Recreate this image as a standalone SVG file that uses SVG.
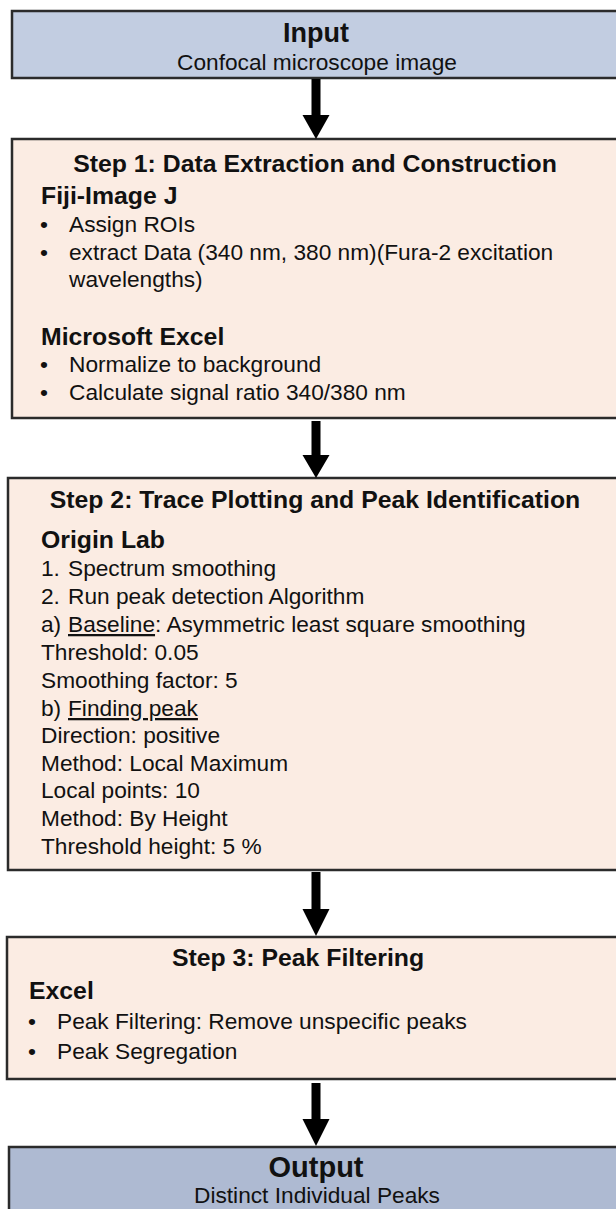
<svg xmlns="http://www.w3.org/2000/svg" width="616" height="1209" viewBox="0 0 616 1209">
<style>
.io{fill:#c2cde1;stroke:#2b2b2b;stroke-width:2.5}
.out{fill:#aebad2;stroke:#2b2b2b;stroke-width:2.5}
.step{fill:#fbece3;stroke:#2b2b2b;stroke-width:2.5}
text{font-family:"Liberation Sans",Arial,sans-serif;fill:#111}
.t{font-size:22.7px}
.b{font-size:24.8px;font-weight:bold}
.big{font-size:27px;font-weight:bold}
.big2{font-size:29px;font-weight:bold}
.c{text-anchor:middle}
.arrow{fill:#000}
</style>
<g id="input">
<rect class="io" x="12" y="11" width="620" height="67"/>
<text class="big c" x="316" y="42">Input</text>
<text class="t c" x="317" y="70">Confocal microscope image</text>
</g>
<g id="step1">
<rect class="step" x="12" y="139" width="620" height="279"/>
<text class="b c" x="315" y="172">Step 1: Data Extraction and Construction</text>
<text class="b" x="41" y="204">Fiji-Image J</text>
<text class="t" x="40" y="232">•</text><text class="t" x="69" y="232">Assign ROIs</text>
<text class="t" x="40" y="260">•</text><text class="t" x="69" y="260">extract Data (340 nm, 380 nm)(Fura-2 excitation</text>
<text class="t" x="69" y="287">wavelengths)</text>
<text class="b" x="41" y="345">Microsoft Excel</text>
<text class="t" x="40" y="372">•</text><text class="t" x="69" y="372">Normalize to background</text>
<text class="t" x="40" y="400">•</text><text class="t" x="69" y="400">Calculate signal ratio 340/380 nm</text>
</g>
<g id="step2">
<rect class="step" x="8" y="478" width="620" height="392"/>
<text class="b c" x="315" y="508">Step 2: Trace Plotting and Peak Identification</text>
<text class="b" x="41" y="548">Origin Lab</text>
<text class="t" x="41" y="576">1.</text><text class="t" x="68" y="576">Spectrum smoothing</text>
<text class="t" x="41" y="604">2.</text><text class="t" x="68" y="604">Run peak detection Algorithm</text>
<text class="t" x="41" y="632">a)</text><text class="t" x="68" y="632"><tspan text-decoration="underline">Baseline</tspan>: Asymmetric least square smoothing</text>
<text class="t" x="41" y="660">Threshold: 0.05</text>
<text class="t" x="41" y="688">Smoothing factor: 5</text>
<text class="t" x="41" y="716">b)</text><text class="t" x="68" y="716" text-decoration="underline">Finding peak</text>
<text class="t" x="41" y="743">Direction: positive</text>
<text class="t" x="41" y="771">Method: Local Maximum</text>
<text class="t" x="41" y="798">Local points: 10</text>
<text class="t" x="41" y="826">Method: By Height</text>
<text class="t" x="41" y="854">Threshold height: 5 %</text>
</g>
<g id="step3">
<rect class="step" x="7" y="937" width="620" height="142"/>
<text class="b c" x="298" y="966">Step 3: Peak Filtering</text>
<text class="b" x="29" y="999">Excel</text>
<text class="t" x="28" y="1029">•</text><text class="t" x="57" y="1029">Peak Filtering: Remove unspecific peaks</text>
<text class="t" x="28" y="1059">•</text><text class="t" x="57" y="1059">Peak Segregation</text>
</g>
<g id="output">
<rect class="out" x="9" y="1147" width="620" height="80"/>
<text class="big2 c" x="316" y="1177">Output</text>
<text class="t c" x="317" y="1203">Distinct Individual Peaks</text>
</g>
<g id="connectors">
<polygon class="arrow" points="311.5,79 320.5,79 320.5,115 329.5,115 316,139 302.5,115 311.5,115"/>
<polygon class="arrow" points="311.5,421 320.5,421 320.5,455 329.5,455 316,478 302.5,455 311.5,455"/>
<polygon class="arrow" points="311.5,872 320.5,872 320.5,909 329.5,909 316,936 302.5,909 311.5,909"/>
<polygon class="arrow" points="311.5,1083 320.5,1083 320.5,1119 329.5,1119 316,1146 302.5,1119 311.5,1119"/>
</g>
</svg>
